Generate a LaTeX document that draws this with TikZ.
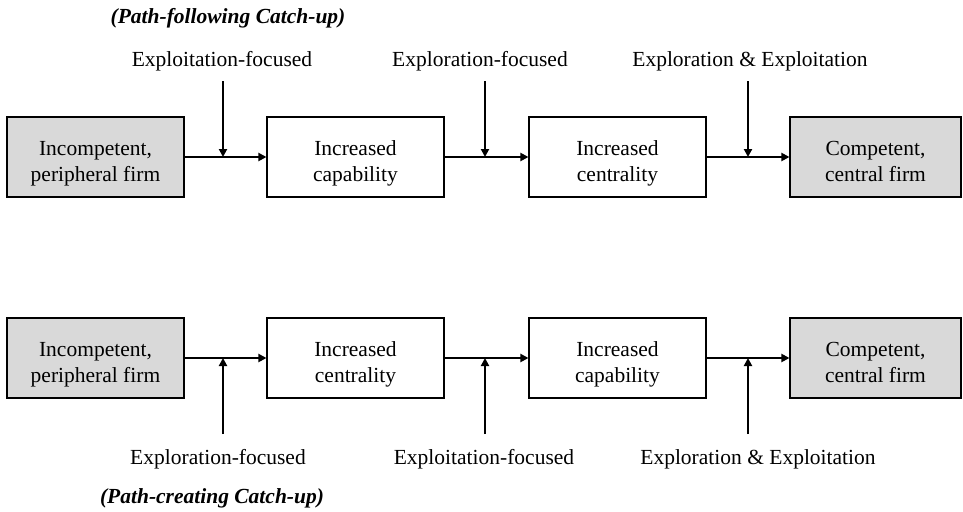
\documentclass[tikz,border=0pt]{standalone}
\usepackage{fontspec}
\setmainfont{Liberation Serif}
\usetikzlibrary{arrows.meta}

\tikzset{
  stagebox/.style={draw, line width=1.1pt, minimum width=177pt, minimum height=80pt, align=center, inner sep=0, text height=55pt, text depth=7pt},
  endbox/.style={stagebox, fill=gray!30},
  flow/.style={-{Triangle[length=8pt,width=8pt]}, line width=2.8pt},
  lab/.style={inner sep=0},
}

\begin{document}
\begin{tikzpicture}[x=1pt, y=-1pt, font=\fontsize{21.5}{26}\selectfont]
\useasboundingbox (0,0) rectangle (963,511);

% upper path
\node[font=\fontsize{21.5}{26}\selectfont\bfseries\itshape, lab] (t1) at (228,18) {(Path-following Catch-up)};

\node[endbox] (u1) at (95.5,157) {Incompetent,\\peripheral firm};
\node[stagebox] (u2) at (355.5,157) {Increased\\capability};
\node[stagebox] (u3) at (617.5,157) {Increased\\centrality};
\node[endbox, minimum width=171pt] (u4) at (875.5,157) {Competent,\\central firm};

\draw[flow] (u1) -- (u2);
\draw[flow] (u2) -- (u3);
\draw[flow] (u3) -- (u4);

\node[lab] (ul1) at (222,61) {Exploitation-focused};
\node[lab] (ul2) at (480,61) {Exploration-focused};
\node[lab] (ul3) at (750,61) {Exploration \& Exploitation};

\coordinate (us1) at (223,81);
\coordinate (us2) at (485,81);
\coordinate (us3) at (748,81);
\coordinate (um1) at (223,157);
\coordinate (um2) at (485,157);
\coordinate (um3) at (748,157);

\draw[flow] (us1) -- (um1);
\draw[flow] (us2) -- (um2);
\draw[flow] (us3) -- (um3);

% lower path
\node[endbox] (d1) at (95.5,358) {Incompetent,\\peripheral firm};
\node[stagebox] (d2) at (355.5,358) {Increased\\centrality};
\node[stagebox] (d3) at (617.5,358) {Increased\\capability};
\node[endbox, minimum width=171pt] (d4) at (875.5,358) {Competent,\\central firm};

\draw[flow] (d1) -- (d2);
\draw[flow] (d2) -- (d3);
\draw[flow] (d3) -- (d4);

\coordinate (ds1) at (223,434);
\coordinate (ds2) at (485,434);
\coordinate (ds3) at (748,434);
\coordinate (dm1) at (223,358);
\coordinate (dm2) at (485,358);
\coordinate (dm3) at (748,358);

\draw[flow] (ds1) -- (dm1);
\draw[flow] (ds2) -- (dm2);
\draw[flow] (ds3) -- (dm3);

\node[lab] (dl1) at (218,459) {Exploration-focused};
\node[lab] (dl2) at (484,459) {Exploitation-focused};
\node[lab] (dl3) at (758,459) {Exploration \& Exploitation};

\node[font=\fontsize{21.5}{26}\selectfont\bfseries\itshape, lab] (t2) at (212,498) {(Path-creating Catch-up)};

\end{tikzpicture}
\end{document}
